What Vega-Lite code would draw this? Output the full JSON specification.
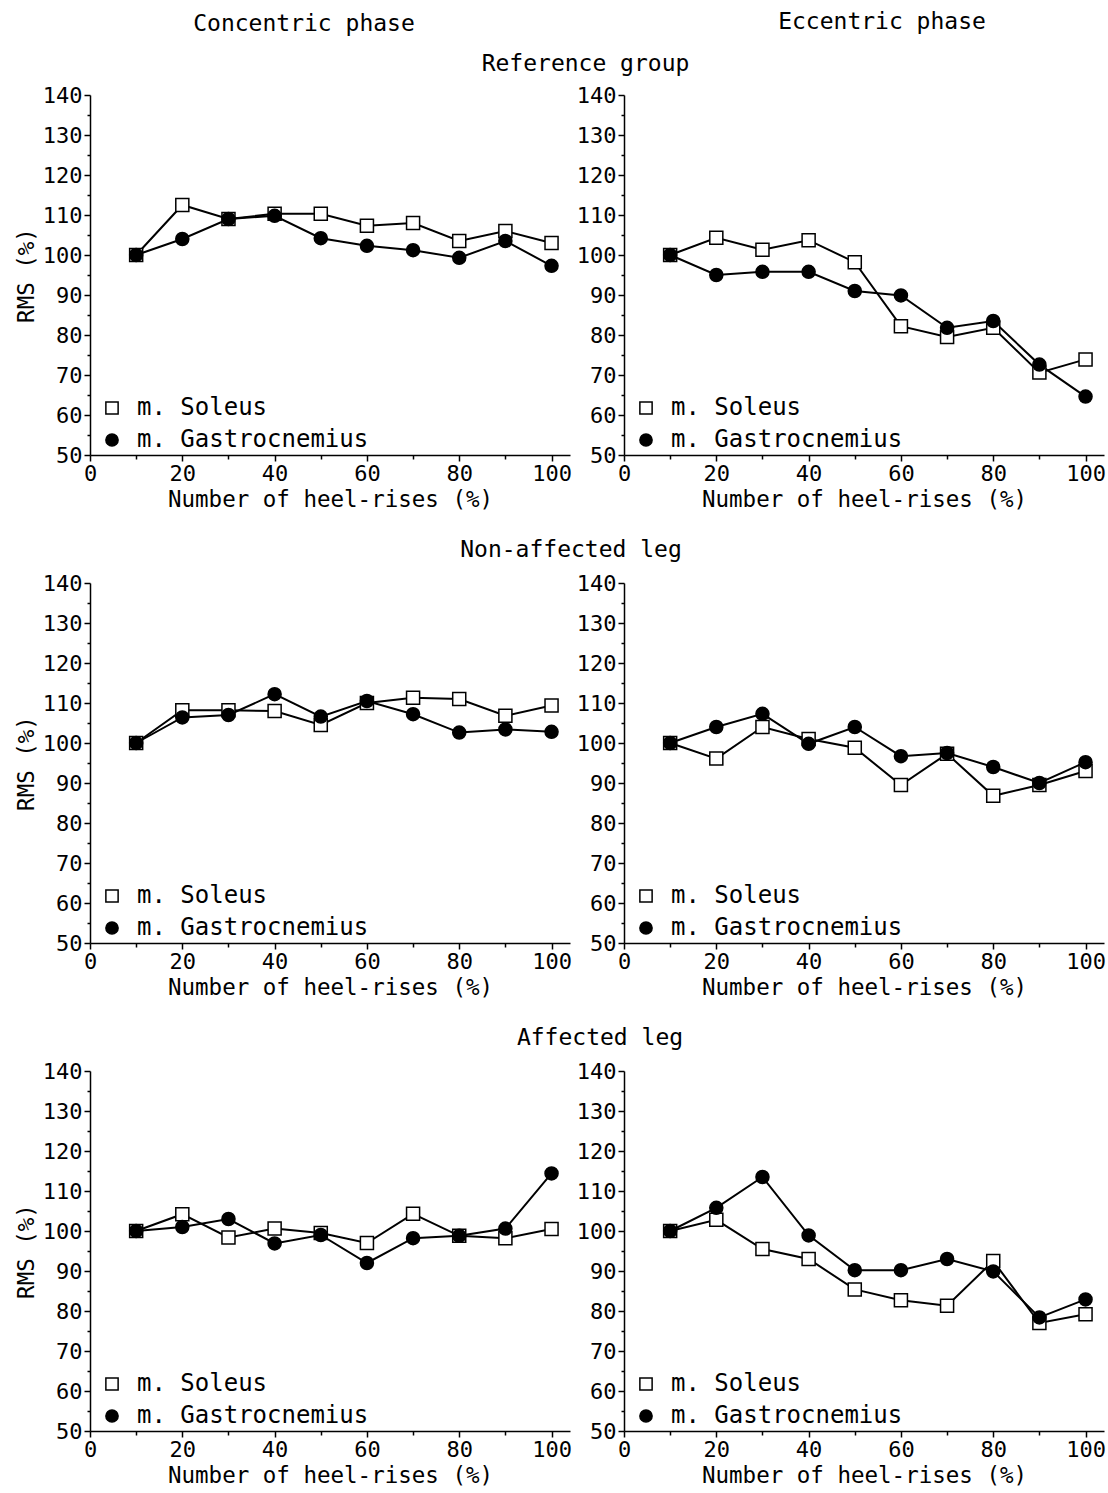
{
"$schema": "https://vega.github.io/schema/vega-lite/v6.json",
"background": "white",
"padding": {"left": 15, "top": 11, "right": 0, "bottom": 0},
"data": {"values": [
{"g":"Reference group","p":"Concentric phase","m":"m. Soleus","x":10,"v":100},
{"g":"Reference group","p":"Concentric phase","m":"m. Soleus","x":20,"v":112.5},
{"g":"Reference group","p":"Concentric phase","m":"m. Soleus","x":30,"v":109},
{"g":"Reference group","p":"Concentric phase","m":"m. Soleus","x":40,"v":110.3},
{"g":"Reference group","p":"Concentric phase","m":"m. Soleus","x":50,"v":110.3},
{"g":"Reference group","p":"Concentric phase","m":"m. Soleus","x":60,"v":107.3},
{"g":"Reference group","p":"Concentric phase","m":"m. Soleus","x":70,"v":108},
{"g":"Reference group","p":"Concentric phase","m":"m. Soleus","x":80,"v":103.5},
{"g":"Reference group","p":"Concentric phase","m":"m. Soleus","x":90,"v":106},
{"g":"Reference group","p":"Concentric phase","m":"m. Soleus","x":100,"v":103},
{"g":"Reference group","p":"Concentric phase","m":"m. Gastrocnemius","x":10,"v":100},
{"g":"Reference group","p":"Concentric phase","m":"m. Gastrocnemius","x":20,"v":104},
{"g":"Reference group","p":"Concentric phase","m":"m. Gastrocnemius","x":30,"v":109},
{"g":"Reference group","p":"Concentric phase","m":"m. Gastrocnemius","x":40,"v":109.8},
{"g":"Reference group","p":"Concentric phase","m":"m. Gastrocnemius","x":50,"v":104.2},
{"g":"Reference group","p":"Concentric phase","m":"m. Gastrocnemius","x":60,"v":102.3},
{"g":"Reference group","p":"Concentric phase","m":"m. Gastrocnemius","x":70,"v":101.2},
{"g":"Reference group","p":"Concentric phase","m":"m. Gastrocnemius","x":80,"v":99.3},
{"g":"Reference group","p":"Concentric phase","m":"m. Gastrocnemius","x":90,"v":103.5},
{"g":"Reference group","p":"Concentric phase","m":"m. Gastrocnemius","x":100,"v":97.3},
{"g":"Reference group","p":"Eccentric phase","m":"m. Soleus","x":10,"v":100},
{"g":"Reference group","p":"Eccentric phase","m":"m. Soleus","x":20,"v":104.3},
{"g":"Reference group","p":"Eccentric phase","m":"m. Soleus","x":30,"v":101.3},
{"g":"Reference group","p":"Eccentric phase","m":"m. Soleus","x":40,"v":103.7},
{"g":"Reference group","p":"Eccentric phase","m":"m. Soleus","x":50,"v":98.2},
{"g":"Reference group","p":"Eccentric phase","m":"m. Soleus","x":60,"v":82.2},
{"g":"Reference group","p":"Eccentric phase","m":"m. Soleus","x":70,"v":79.5},
{"g":"Reference group","p":"Eccentric phase","m":"m. Soleus","x":80,"v":81.8},
{"g":"Reference group","p":"Eccentric phase","m":"m. Soleus","x":90,"v":70.6},
{"g":"Reference group","p":"Eccentric phase","m":"m. Soleus","x":100,"v":73.9},
{"g":"Reference group","p":"Eccentric phase","m":"m. Gastrocnemius","x":10,"v":100},
{"g":"Reference group","p":"Eccentric phase","m":"m. Gastrocnemius","x":20,"v":95},
{"g":"Reference group","p":"Eccentric phase","m":"m. Gastrocnemius","x":30,"v":95.8},
{"g":"Reference group","p":"Eccentric phase","m":"m. Gastrocnemius","x":40,"v":95.8},
{"g":"Reference group","p":"Eccentric phase","m":"m. Gastrocnemius","x":50,"v":91},
{"g":"Reference group","p":"Eccentric phase","m":"m. Gastrocnemius","x":60,"v":89.9},
{"g":"Reference group","p":"Eccentric phase","m":"m. Gastrocnemius","x":70,"v":81.8},
{"g":"Reference group","p":"Eccentric phase","m":"m. Gastrocnemius","x":80,"v":83.5},
{"g":"Reference group","p":"Eccentric phase","m":"m. Gastrocnemius","x":90,"v":72.6},
{"g":"Reference group","p":"Eccentric phase","m":"m. Gastrocnemius","x":100,"v":64.6},
{"g":"Non-affected leg","p":"Concentric phase","m":"m. Soleus","x":10,"v":100},
{"g":"Non-affected leg","p":"Concentric phase","m":"m. Soleus","x":20,"v":108.2},
{"g":"Non-affected leg","p":"Concentric phase","m":"m. Soleus","x":30,"v":108.2},
{"g":"Non-affected leg","p":"Concentric phase","m":"m. Soleus","x":40,"v":108},
{"g":"Non-affected leg","p":"Concentric phase","m":"m. Soleus","x":50,"v":104.5},
{"g":"Non-affected leg","p":"Concentric phase","m":"m. Soleus","x":60,"v":110},
{"g":"Non-affected leg","p":"Concentric phase","m":"m. Soleus","x":70,"v":111.3},
{"g":"Non-affected leg","p":"Concentric phase","m":"m. Soleus","x":80,"v":111},
{"g":"Non-affected leg","p":"Concentric phase","m":"m. Soleus","x":90,"v":106.8},
{"g":"Non-affected leg","p":"Concentric phase","m":"m. Soleus","x":100,"v":109.4},
{"g":"Non-affected leg","p":"Concentric phase","m":"m. Gastrocnemius","x":10,"v":100},
{"g":"Non-affected leg","p":"Concentric phase","m":"m. Gastrocnemius","x":20,"v":106.4},
{"g":"Non-affected leg","p":"Concentric phase","m":"m. Gastrocnemius","x":30,"v":107},
{"g":"Non-affected leg","p":"Concentric phase","m":"m. Gastrocnemius","x":40,"v":112.2},
{"g":"Non-affected leg","p":"Concentric phase","m":"m. Gastrocnemius","x":50,"v":106.6},
{"g":"Non-affected leg","p":"Concentric phase","m":"m. Gastrocnemius","x":60,"v":110.5},
{"g":"Non-affected leg","p":"Concentric phase","m":"m. Gastrocnemius","x":70,"v":107.2},
{"g":"Non-affected leg","p":"Concentric phase","m":"m. Gastrocnemius","x":80,"v":102.6},
{"g":"Non-affected leg","p":"Concentric phase","m":"m. Gastrocnemius","x":90,"v":103.4},
{"g":"Non-affected leg","p":"Concentric phase","m":"m. Gastrocnemius","x":100,"v":102.8},
{"g":"Non-affected leg","p":"Eccentric phase","m":"m. Soleus","x":10,"v":100},
{"g":"Non-affected leg","p":"Eccentric phase","m":"m. Soleus","x":20,"v":96.1},
{"g":"Non-affected leg","p":"Eccentric phase","m":"m. Soleus","x":30,"v":104},
{"g":"Non-affected leg","p":"Eccentric phase","m":"m. Soleus","x":40,"v":101},
{"g":"Non-affected leg","p":"Eccentric phase","m":"m. Soleus","x":50,"v":98.8},
{"g":"Non-affected leg","p":"Eccentric phase","m":"m. Soleus","x":60,"v":89.5},
{"g":"Non-affected leg","p":"Eccentric phase","m":"m. Soleus","x":70,"v":97.3},
{"g":"Non-affected leg","p":"Eccentric phase","m":"m. Soleus","x":80,"v":86.8},
{"g":"Non-affected leg","p":"Eccentric phase","m":"m. Soleus","x":90,"v":89.5},
{"g":"Non-affected leg","p":"Eccentric phase","m":"m. Soleus","x":100,"v":93},
{"g":"Non-affected leg","p":"Eccentric phase","m":"m. Gastrocnemius","x":10,"v":100},
{"g":"Non-affected leg","p":"Eccentric phase","m":"m. Gastrocnemius","x":20,"v":104},
{"g":"Non-affected leg","p":"Eccentric phase","m":"m. Gastrocnemius","x":30,"v":107.3},
{"g":"Non-affected leg","p":"Eccentric phase","m":"m. Gastrocnemius","x":40,"v":99.8},
{"g":"Non-affected leg","p":"Eccentric phase","m":"m. Gastrocnemius","x":50,"v":104},
{"g":"Non-affected leg","p":"Eccentric phase","m":"m. Gastrocnemius","x":60,"v":96.7},
{"g":"Non-affected leg","p":"Eccentric phase","m":"m. Gastrocnemius","x":70,"v":97.5},
{"g":"Non-affected leg","p":"Eccentric phase","m":"m. Gastrocnemius","x":80,"v":94},
{"g":"Non-affected leg","p":"Eccentric phase","m":"m. Gastrocnemius","x":90,"v":90},
{"g":"Non-affected leg","p":"Eccentric phase","m":"m. Gastrocnemius","x":100,"v":95.2},
{"g":"Affected leg","p":"Concentric phase","m":"m. Soleus","x":10,"v":100},
{"g":"Affected leg","p":"Concentric phase","m":"m. Soleus","x":20,"v":104.2},
{"g":"Affected leg","p":"Concentric phase","m":"m. Soleus","x":30,"v":98.4},
{"g":"Affected leg","p":"Concentric phase","m":"m. Soleus","x":40,"v":100.6},
{"g":"Affected leg","p":"Concentric phase","m":"m. Soleus","x":50,"v":99.5},
{"g":"Affected leg","p":"Concentric phase","m":"m. Soleus","x":60,"v":97},
{"g":"Affected leg","p":"Concentric phase","m":"m. Soleus","x":70,"v":104.3},
{"g":"Affected leg","p":"Concentric phase","m":"m. Soleus","x":80,"v":98.8},
{"g":"Affected leg","p":"Concentric phase","m":"m. Soleus","x":90,"v":98.2},
{"g":"Affected leg","p":"Concentric phase","m":"m. Soleus","x":100,"v":100.5},
{"g":"Affected leg","p":"Concentric phase","m":"m. Gastrocnemius","x":10,"v":100},
{"g":"Affected leg","p":"Concentric phase","m":"m. Gastrocnemius","x":20,"v":101},
{"g":"Affected leg","p":"Concentric phase","m":"m. Gastrocnemius","x":30,"v":103},
{"g":"Affected leg","p":"Concentric phase","m":"m. Gastrocnemius","x":40,"v":96.9},
{"g":"Affected leg","p":"Concentric phase","m":"m. Gastrocnemius","x":50,"v":99},
{"g":"Affected leg","p":"Concentric phase","m":"m. Gastrocnemius","x":60,"v":92},
{"g":"Affected leg","p":"Concentric phase","m":"m. Gastrocnemius","x":70,"v":98.2},
{"g":"Affected leg","p":"Concentric phase","m":"m. Gastrocnemius","x":80,"v":98.8},
{"g":"Affected leg","p":"Concentric phase","m":"m. Gastrocnemius","x":90,"v":100.6},
{"g":"Affected leg","p":"Concentric phase","m":"m. Gastrocnemius","x":100,"v":114.4},
{"g":"Affected leg","p":"Eccentric phase","m":"m. Soleus","x":10,"v":100},
{"g":"Affected leg","p":"Eccentric phase","m":"m. Soleus","x":20,"v":102.8},
{"g":"Affected leg","p":"Eccentric phase","m":"m. Soleus","x":30,"v":95.5},
{"g":"Affected leg","p":"Eccentric phase","m":"m. Soleus","x":40,"v":93},
{"g":"Affected leg","p":"Eccentric phase","m":"m. Soleus","x":50,"v":85.4},
{"g":"Affected leg","p":"Eccentric phase","m":"m. Soleus","x":60,"v":82.7},
{"g":"Affected leg","p":"Eccentric phase","m":"m. Soleus","x":70,"v":81.3},
{"g":"Affected leg","p":"Eccentric phase","m":"m. Soleus","x":80,"v":92.5},
{"g":"Affected leg","p":"Eccentric phase","m":"m. Soleus","x":90,"v":77},
{"g":"Affected leg","p":"Eccentric phase","m":"m. Soleus","x":100,"v":79.2},
{"g":"Affected leg","p":"Eccentric phase","m":"m. Gastrocnemius","x":10,"v":100},
{"g":"Affected leg","p":"Eccentric phase","m":"m. Gastrocnemius","x":20,"v":105.8},
{"g":"Affected leg","p":"Eccentric phase","m":"m. Gastrocnemius","x":30,"v":113.5},
{"g":"Affected leg","p":"Eccentric phase","m":"m. Gastrocnemius","x":40,"v":98.9},
{"g":"Affected leg","p":"Eccentric phase","m":"m. Gastrocnemius","x":50,"v":90.2},
{"g":"Affected leg","p":"Eccentric phase","m":"m. Gastrocnemius","x":60,"v":90.2},
{"g":"Affected leg","p":"Eccentric phase","m":"m. Gastrocnemius","x":70,"v":93},
{"g":"Affected leg","p":"Eccentric phase","m":"m. Gastrocnemius","x":80,"v":89.9},
{"g":"Affected leg","p":"Eccentric phase","m":"m. Gastrocnemius","x":90,"v":78.4},
{"g":"Affected leg","p":"Eccentric phase","m":"m. Gastrocnemius","x":100,"v":82.9}
]},
"columns": 2,
"bounds": "flush",
"spacing": {"row": 128, "column": 54},
"resolve": {"scale": {"shape": "independent", "fill": "independent"}, "legend": {"shape": "independent", "fill": "independent"}},
"concat": [
  {"title": {"text": "Concentric phase", "anchor": "middle", "frame": "group", "dx": -26, "offset": 16},
   "width": 480, "height": 360,
   "transform": [{"filter": "datum.g === 'Reference group' && datum.p === 'Concentric phase'"}],
   "encoding": {
    "x": {"field": "x", "type": "quantitative", "scale": {"domain": [0, 104], "nice": false}, "axis": {"values": [0,10,20,30,40,50,60,70,80,90,100], "labelExpr": "datum.value % 20 === 0 ? datum.label : ''", "title": "Number of heel-rises (%)", "tickSize": {"condition": {"test": "datum.value % 20 === 0", "value": 6}, "value": 4}}},
    "y": {"field": "v", "type": "quantitative", "scale": {"domain": [50, 140], "nice": false, "zero": false}, "axis": {"values": [50,55,60,65,70,75,80,85,90,95,100,105,110,115,120,125,130,135,140], "labelExpr": "datum.value % 10 === 0 ? datum.label : ''", "title": "RMS (%)", "tickSize": {"condition": {"test": "datum.value % 10 === 0", "value": 6}, "value": 3}}}
   },
   "resolve": {"axis": {"x": "independent"}},
   "layer": [
    {"mark": {"type": "line", "color": "black", "strokeWidth": 2}, "encoding": {"detail": {"field": "m"}}},
    {"mark": {"type": "point", "filled": true, "stroke": "black", "strokeWidth": 1.5, "size": 170, "opacity": 1},
     "encoding": {
      "x": {"field": "x", "type": "quantitative", "axis": {"orient": "top", "title": "Reference group", "labels": false, "ticks": false, "domain": false, "titleX": 495, "titleAnchor": "middle", "titleAlign": "center", "titlePadding": 20, "titleFontSize": 23}},
      "shape": {"field": "m", "type": "nominal", "scale": {"domain": ["m. Soleus", "m. Gastrocnemius"], "range": ["square", "circle"]}, "legend": {"title": null, "encode": {"symbols": {"update": {"stroke": {"value": "black"}, "strokeWidth": {"value": 1.5}}}}}},
      "fill": {"field": "m", "type": "nominal", "scale": {"domain": ["m. Soleus", "m. Gastrocnemius"], "range": ["white", "black"]}, "legend": {"title": null, "encode": {"symbols": {"update": {"stroke": {"value": "black"}, "strokeWidth": {"value": 1.5}}}}}}
     }}
   ]},
  {"title": {"text": "Eccentric phase", "anchor": "middle", "frame": "group", "dx": 18, "offset": 50},
   "width": 480, "height": 360,
   "transform": [{"filter": "datum.g === 'Reference group' && datum.p === 'Eccentric phase'"}],
   "encoding": {
    "x": {"field": "x", "type": "quantitative", "scale": {"domain": [0, 104], "nice": false}, "axis": {"values": [0,10,20,30,40,50,60,70,80,90,100], "labelExpr": "datum.value % 20 === 0 ? datum.label : ''", "title": "Number of heel-rises (%)", "tickSize": {"condition": {"test": "datum.value % 20 === 0", "value": 6}, "value": 4}}},
    "y": {"field": "v", "type": "quantitative", "scale": {"domain": [50, 140], "nice": false, "zero": false}, "axis": {"values": [50,55,60,65,70,75,80,85,90,95,100,105,110,115,120,125,130,135,140], "labelExpr": "datum.value % 10 === 0 ? datum.label : ''", "title": null, "tickSize": {"condition": {"test": "datum.value % 10 === 0", "value": 6}, "value": 3}}}
   },
   "layer": [
    {"mark": {"type": "line", "color": "black", "strokeWidth": 2}, "encoding": {"detail": {"field": "m"}}},
    {"mark": {"type": "point", "filled": true, "stroke": "black", "strokeWidth": 1.5, "size": 170, "opacity": 1},
     "encoding": {
      "shape": {"field": "m", "type": "nominal", "scale": {"domain": ["m. Soleus", "m. Gastrocnemius"], "range": ["square", "circle"]}, "legend": {"title": null, "encode": {"symbols": {"update": {"stroke": {"value": "black"}, "strokeWidth": {"value": 1.5}}}}}},
      "fill": {"field": "m", "type": "nominal", "scale": {"domain": ["m. Soleus", "m. Gastrocnemius"], "range": ["white", "black"]}, "legend": {"title": null, "encode": {"symbols": {"update": {"stroke": {"value": "black"}, "strokeWidth": {"value": 1.5}}}}}}
     }}
   ]},
  {"title": {"text": "Non-affected leg", "anchor": "middle", "frame": "group", "dx": 241, "offset": 10},
   "width": 480, "height": 360,
   "transform": [{"filter": "datum.g === 'Non-affected leg' && datum.p === 'Concentric phase'"}],
   "encoding": {
    "x": {"field": "x", "type": "quantitative", "scale": {"domain": [0, 104], "nice": false}, "axis": {"values": [0,10,20,30,40,50,60,70,80,90,100], "labelExpr": "datum.value % 20 === 0 ? datum.label : ''", "title": "Number of heel-rises (%)", "tickSize": {"condition": {"test": "datum.value % 20 === 0", "value": 6}, "value": 4}}},
    "y": {"field": "v", "type": "quantitative", "scale": {"domain": [50, 140], "nice": false, "zero": false}, "axis": {"values": [50,55,60,65,70,75,80,85,90,95,100,105,110,115,120,125,130,135,140], "labelExpr": "datum.value % 10 === 0 ? datum.label : ''", "title": "RMS (%)", "tickSize": {"condition": {"test": "datum.value % 10 === 0", "value": 6}, "value": 3}}}
   },
   "layer": [
    {"mark": {"type": "line", "color": "black", "strokeWidth": 2}, "encoding": {"detail": {"field": "m"}}},
    {"mark": {"type": "point", "filled": true, "stroke": "black", "strokeWidth": 1.5, "size": 170, "opacity": 1},
     "encoding": {
      "shape": {"field": "m", "type": "nominal", "scale": {"domain": ["m. Soleus", "m. Gastrocnemius"], "range": ["square", "circle"]}, "legend": {"title": null, "encode": {"symbols": {"update": {"stroke": {"value": "black"}, "strokeWidth": {"value": 1.5}}}}}},
      "fill": {"field": "m", "type": "nominal", "scale": {"domain": ["m. Soleus", "m. Gastrocnemius"], "range": ["white", "black"]}, "legend": {"title": null, "encode": {"symbols": {"update": {"stroke": {"value": "black"}, "strokeWidth": {"value": 1.5}}}}}}
     }}
   ]},
  {"width": 480, "height": 360,
   "transform": [{"filter": "datum.g === 'Non-affected leg' && datum.p === 'Eccentric phase'"}],
   "encoding": {
    "x": {"field": "x", "type": "quantitative", "scale": {"domain": [0, 104], "nice": false}, "axis": {"values": [0,10,20,30,40,50,60,70,80,90,100], "labelExpr": "datum.value % 20 === 0 ? datum.label : ''", "title": "Number of heel-rises (%)", "tickSize": {"condition": {"test": "datum.value % 20 === 0", "value": 6}, "value": 4}}},
    "y": {"field": "v", "type": "quantitative", "scale": {"domain": [50, 140], "nice": false, "zero": false}, "axis": {"values": [50,55,60,65,70,75,80,85,90,95,100,105,110,115,120,125,130,135,140], "labelExpr": "datum.value % 10 === 0 ? datum.label : ''", "title": null, "tickSize": {"condition": {"test": "datum.value % 10 === 0", "value": 6}, "value": 3}}}
   },
   "layer": [
    {"mark": {"type": "line", "color": "black", "strokeWidth": 2}, "encoding": {"detail": {"field": "m"}}},
    {"mark": {"type": "point", "filled": true, "stroke": "black", "strokeWidth": 1.5, "size": 170, "opacity": 1},
     "encoding": {
      "shape": {"field": "m", "type": "nominal", "scale": {"domain": ["m. Soleus", "m. Gastrocnemius"], "range": ["square", "circle"]}, "legend": {"title": null, "encode": {"symbols": {"update": {"stroke": {"value": "black"}, "strokeWidth": {"value": 1.5}}}}}},
      "fill": {"field": "m", "type": "nominal", "scale": {"domain": ["m. Soleus", "m. Gastrocnemius"], "range": ["white", "black"]}, "legend": {"title": null, "encode": {"symbols": {"update": {"stroke": {"value": "black"}, "strokeWidth": {"value": 1.5}}}}}}
     }}
   ]},
  {"title": {"text": "Affected leg", "anchor": "middle", "frame": "group", "dx": 270, "offset": 10},
   "width": 480, "height": 360,
   "transform": [{"filter": "datum.g === 'Affected leg' && datum.p === 'Concentric phase'"}],
   "encoding": {
    "x": {"field": "x", "type": "quantitative", "scale": {"domain": [0, 104], "nice": false}, "axis": {"values": [0,10,20,30,40,50,60,70,80,90,100], "labelExpr": "datum.value % 20 === 0 ? datum.label : ''", "title": "Number of heel-rises (%)", "tickSize": {"condition": {"test": "datum.value % 20 === 0", "value": 6}, "value": 4}}},
    "y": {"field": "v", "type": "quantitative", "scale": {"domain": [50, 140], "nice": false, "zero": false}, "axis": {"values": [50,55,60,65,70,75,80,85,90,95,100,105,110,115,120,125,130,135,140], "labelExpr": "datum.value % 10 === 0 ? datum.label : ''", "title": "RMS (%)", "tickSize": {"condition": {"test": "datum.value % 10 === 0", "value": 6}, "value": 3}}}
   },
   "layer": [
    {"mark": {"type": "line", "color": "black", "strokeWidth": 2}, "encoding": {"detail": {"field": "m"}}},
    {"mark": {"type": "point", "filled": true, "stroke": "black", "strokeWidth": 1.5, "size": 170, "opacity": 1},
     "encoding": {
      "shape": {"field": "m", "type": "nominal", "scale": {"domain": ["m. Soleus", "m. Gastrocnemius"], "range": ["square", "circle"]}, "legend": {"title": null, "encode": {"symbols": {"update": {"stroke": {"value": "black"}, "strokeWidth": {"value": 1.5}}}}}},
      "fill": {"field": "m", "type": "nominal", "scale": {"domain": ["m. Soleus", "m. Gastrocnemius"], "range": ["white", "black"]}, "legend": {"title": null, "encode": {"symbols": {"update": {"stroke": {"value": "black"}, "strokeWidth": {"value": 1.5}}}}}}
     }}
   ]},
  {"width": 480, "height": 360,
   "transform": [{"filter": "datum.g === 'Affected leg' && datum.p === 'Eccentric phase'"}],
   "encoding": {
    "x": {"field": "x", "type": "quantitative", "scale": {"domain": [0, 104], "nice": false}, "axis": {"values": [0,10,20,30,40,50,60,70,80,90,100], "labelExpr": "datum.value % 20 === 0 ? datum.label : ''", "title": "Number of heel-rises (%)", "tickSize": {"condition": {"test": "datum.value % 20 === 0", "value": 6}, "value": 4}}},
    "y": {"field": "v", "type": "quantitative", "scale": {"domain": [50, 140], "nice": false, "zero": false}, "axis": {"values": [50,55,60,65,70,75,80,85,90,95,100,105,110,115,120,125,130,135,140], "labelExpr": "datum.value % 10 === 0 ? datum.label : ''", "title": null, "tickSize": {"condition": {"test": "datum.value % 10 === 0", "value": 6}, "value": 3}}}
   },
   "layer": [
    {"mark": {"type": "line", "color": "black", "strokeWidth": 2}, "encoding": {"detail": {"field": "m"}}},
    {"mark": {"type": "point", "filled": true, "stroke": "black", "strokeWidth": 1.5, "size": 170, "opacity": 1},
     "encoding": {
      "shape": {"field": "m", "type": "nominal", "scale": {"domain": ["m. Soleus", "m. Gastrocnemius"], "range": ["square", "circle"]}, "legend": {"title": null, "encode": {"symbols": {"update": {"stroke": {"value": "black"}, "strokeWidth": {"value": 1.5}}}}}},
      "fill": {"field": "m", "type": "nominal", "scale": {"domain": ["m. Soleus", "m. Gastrocnemius"], "range": ["white", "black"]}, "legend": {"title": null, "encode": {"symbols": {"update": {"stroke": {"value": "black"}, "strokeWidth": {"value": 1.5}}}}}}
     }}
   ]}
],
"config": {
 "font": "DejaVu Sans Mono",
 "view": {"stroke": null},
 "title": {"font": "DejaVu Sans Mono", "fontSize": 23, "fontWeight": "normal", "color": "black"},
 "axis": {"grid": false, "domainColor": "black", "domainWidth": 1.5, "tickColor": "black", "tickWidth": 1.5, "labelColor": "black", "titleColor": "black", "labelFont": "DejaVu Sans Mono", "titleFont": "DejaVu Sans Mono", "labelFontSize": 22, "titleFontSize": 22.5, "titleFontWeight": "normal", "labelPadding": 2, "titlePadding": 4, "labelFlush": false, "labelOverlap": false},
 "legend": {"orient": "none", "legendX": 10, "legendY": 301, "padding": 0, "labelFont": "DejaVu Sans Mono", "labelFontSize": 24, "labelColor": "black", "labelLimit": 0, "symbolSize": 150, "symbolStrokeColor": "black", "symbolStrokeWidth": 1.5, "rowPadding": 8, "labelOffset": 13, "symbolOpacity": 1}
}
}
